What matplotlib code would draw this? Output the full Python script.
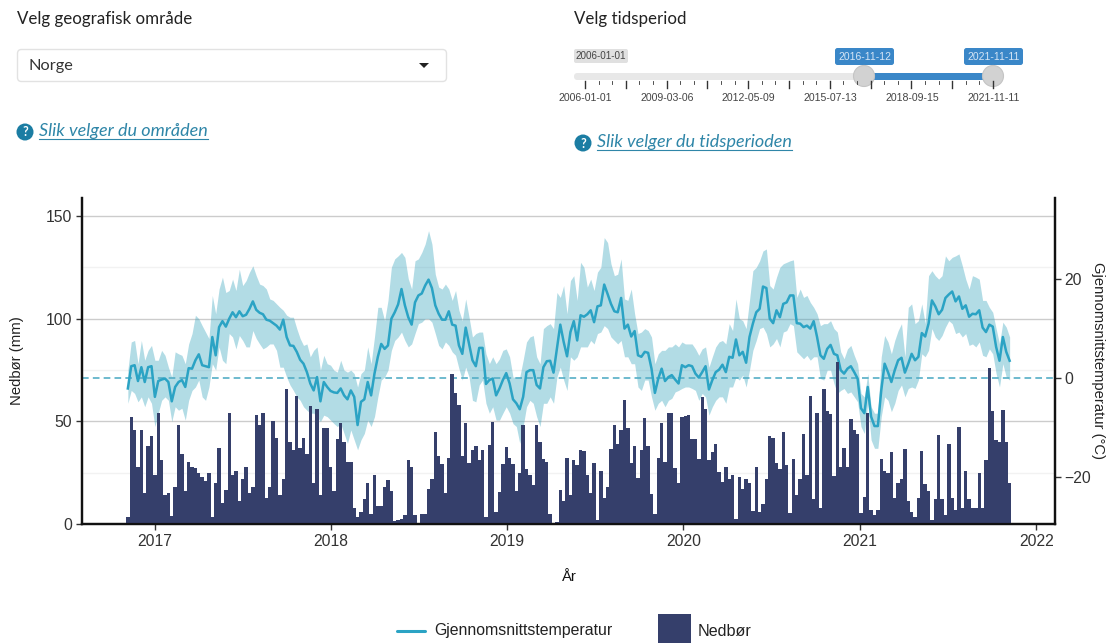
import matplotlib
matplotlib.use('Agg')
import matplotlib.pyplot as plt
import matplotlib.dates as mdates
import pandas as pd
from matplotlib.patches import Circle, FancyBboxPatch, Polygon, Rectangle

# weekly values
nedbor = [
    3.6, 52, 46, 28, 46, 15, 38, 43, 24, 54,
    31, 14, 15, 4, 18, 48, 34, 16, 30, 28,
    27.5, 25, 23, 21, 25, 3.6, 20, 37, 10, 16.5,
    54, 24, 26, 11, 22, 28, 15, 18, 53, 48,
    54, 12.5, 18, 50, 42, 14, 22, 66, 40, 36,
    62.5, 37, 42, 34, 57.5, 20, 56, 14, 47, 47,
    28, 16, 41.5, 49, 40, 30, 30, 8, 3.6, 6,
    12, 20, 5, 24, 9, 9, 18, 21.5, 16, 1.3,
    2, 2.3, 4.4, 31, 28, 4.4, 0.6, 5, 5, 17,
    22, 45, 33, 29, 15, 32, 73, 64, 58, 33,
    49, 29.5, 36, 38, 31, 36, 3.6, 38.5, 49.5, 6,
    15.5, 29, 37.5, 32, 29, 16, 25, 48, 27, 24,
    19, 48, 40, 31.5, 30, 5, 0.3, 1, 16.5, 11,
    32, 14, 31, 28.5, 36, 35.5, 24, 15, 29.5, 2,
    26, 12.5, 18, 36.5, 48, 39, 46, 60.5, 47, 29.5,
    38, 22.5, 36, 51.5, 38, 14.6, 5, 32, 49, 30,
    54, 54, 27.5, 20, 52, 52.5, 53, 41.5, 41.5, 31.5,
    61.7, 56, 31, 35, 39, 25.5, 20.6, 28, 22, 24,
    2.3, 23, 17, 22, 20, 6.5, 28, 6, 9.5, 22,
    43, 42, 29.5, 27, 45, 28.5, 5.5, 31.6, 14, 22,
    44, 24, 62.5, 12, 54, 8, 65.6, 55, 53.5, 23.4,
    79, 27.6, 37, 28, 51, 46, 44, 5.5, 13, 54,
    7, 4.4, 7, 31.5, 26, 25, 35, 12.5, 20, 22,
    36.4, 11, 6, 3.2, 12.5, 35.4, 19.3, 16, 2, 12.3,
    43.5, 12.3, 4.4, 39, 12.5, 7, 47.4, 8, 26, 12,
    7.6, 8, 25, 7.6, 31, 76, 55, 41, 40, 55.5,
    40, 20]

temp_mean = [
    -2.2, 2.3, 2.5, -0.7, 2.1, -0.9, 2.1, 2.3, -3.9, -0.7,
    -0.4, -0.2, -0.9, -4.8, -1.9, -0.9, -0.5, -1.9, 1.9, 1.8,
    3.5, 4.7, 2.5, 2.3, 2.1, 8.2, 4.5, 10.2, 11.4, 10.3,
    11.9, 13.2, 12.2, 13.4, 12.4, 12.7, 13.9, 15.4, 13.7, 13.1,
    12.8, 11.7, 11.5, 11, 10.5, 9.7, 11.7, 8.2, 6.5, 6.4,
    5.2, 3.6, 2.8, 1.1, -1.2, -2.6, 0.1, -4.8, -0.9, -1.9,
    -2.7, -3, -3.1, -2.2, -3.6, -4.4, -2.6, -3.9, -9.6, -4.9,
    -4.4, -0.9, -3.6, 0.8, 4.2, 6.8, 5.8, 6.5, 11.9, 13.2,
    14.8, 17.9, 14.6, 12.2, 10.7, 15.2, 16.6, 17, 18.6, 19.8,
    18.1, 14.6, 12.9, 11.7, 11.7, 13.4, 10.7, 10.5, 6.5, 4.8,
    10.1, 6.8, 3.5, 2.3, 6, 6, -1.3, -0.5, -0.2, -3.6,
    -2.2, -0.5, 0.9, -1.2, -4.4, -5.2, -6.4, -3.9, 1.1, 1.5,
    1.5, -1.5, -2.2, 2.1, 3.3, 3.4, 1, 5.8, 10.7, 7.2,
    4.3, 9.2, 11.4, 7.5, 12.6, 12.3, 12.8, 13.6, 11.2, 14.4,
    14.6, 18.8, 16.9, 14.9, 13.4, 13.2, 16.1, 9.9, 10.7, 8.3,
    9.4, 4.5, 4.2, 5.2, 5, 1.8, -3.1, -0.2, 1.8, -0.7,
    0.1, 0.5, -0.4, -1.2, 2.5, 2.1, 2.5, 2.3, 0.8, 0,
    1.1, 2.3, -2.4, -0.5, 1.1, 1.6, 2.6, 1.1, 4.2, 4,
    7.7, 4.5, 5.2, 3, 8.2, 10.9, 13.2, 13.9, 18.4, 18.1,
    11.9, 11, 13.6, 12.2, 14.9, 15.2, 16.6, 16.6, 11, 10.9,
    10.2, 10.5, 9.9, 11.4, 8.2, 4.5, 3.8, 5.8, 6.6, 4.8,
    4.5, 1.5, 0.8, 1.8, 2.3, 1.1, -0.2, -6.2, -7.2, -1.9,
    -7.9, -9.8, -9.8, -2.6, 2.8, 1.1, -0.9, 1.5, 3.5, 4,
    1, 2.8, 4.8, 3.5, 4.2, 9, 8.3, 10.9, 15.6, 14.4,
    12.8, 13.7, 16.1, 16.8, 17.4, 15.4, 16.4, 13.9, 14.6, 12.3,
    12.9, 12.8, 13.6, 10.1, 9.2, 10.7, 10.3, 6.2, 3.4, 8.2,
    5.2, 3.4]

temp_high = [
    1.5, 7.2, 7.5, 2.8, 7.5, 3.5, 5.5, 6.5, 3.5, 3.5,
    5.5, 4.5, 2.1, 0.1, 5.2, 4.8, 4.5, 2.8, 6.8, 8.9,
    12.6, 11.9, 10.5, 9.2, 7.9, 16.6, 12.9, 17.9, 20.3, 17.2,
    17.6, 19.9, 17.6, 21.9, 18.6, 19.6, 21.3, 22.6, 20.6, 18.9,
    18.6, 17.9, 15.9, 15.6, 14.9, 14.2, 13.6, 12.6, 12.2, 12.2,
    9.9, 7.9, 6.5, 6.8, 4.2, 5.5, 6.2, 1.5, 4.5, 2.8,
    2.5, 1.5, 1.1, 3.5, 1.5, 1.1, 1.5, 0.8, -1.9, 0.8,
    1.5, 6.2, 2.8, 8.2, 14.2, 14.2, 11.5, 15.6, 22.3, 24,
    24.6, 25.3, 24.3, 20, 17.9, 23.6, 24, 25.3, 27, 29.7,
    27, 20.9, 18.3, 17.9, 18.9, 17.9, 15.6, 17.6, 13.6, 11.5,
    15.9, 12.2, 8.2, 8.9, 9.2, 9.2, 4.8, 2.8, 4.2, 2.8,
    3.8, 5.5, 5.8, 4.2, 0.1, 0.1, 0.1, 3.5, 7.2, 8.2,
    8.5, 4.2, 2.8, 9.9, 10.5, 10.9, 9.9, 17.2, 16.2, 18.6,
    12.9, 19.6, 20.6, 15.6, 23.3, 22.3, 18.3, 19.9, 17.6, 21.3,
    22.3, 28.3, 27.3, 23, 20.6, 20.9, 24, 15.9, 15.6, 17.9,
    12.9, 8.9, 9.2, 9.9, 9.5, 8.2, 2.8, 4.8, 5.5, 5.5,
    6.2, 6.2, 6.8, 6.2, 7.2, 6.8, 6.8, 6.8, 5.8, 4.5,
    5.8, 6.2, 2.1, 4.2, 6.2, 7.2, 7.5, 6.8, 10.9, 9.5,
    15.9, 11.9, 11.5, 9.9, 15.6, 21.6, 22.3, 23.6, 25.6, 26,
    18.6, 17.9, 20.3, 22.3, 23, 23.3, 23.6, 23.8, 16.2, 17.9,
    16.2, 16.6, 15.2, 14.2, 12.9, 10.5, 10.9, 10.9, 11.5, 9.9,
    9.2, 5.2, 3.8, 5.8, 6.5, 4.5, 2.8, -3.2, -3.9, 0.8,
    -5.9, -7.2, -7.2, 4.2, 8.5, 7.2, 4.8, 7.5, 9.5, 10.9,
    4.2, 14.2, 14.9, 10.9, 11.5, 14.9, 10.9, 20.6, 21.6, 20.6,
    19.9, 20.6, 24.6, 23.6, 24.3, 24.6, 25, 22.6, 19.9, 17.9,
    20.6, 20.3, 19.9, 15.6, 15.6, 14.2, 13.2, 9.9, 6.8, 11.2,
    10.2, 8.2]

temp_low = [
    -5.2, -2.6, -3.2, -4.9, -3.9, -5.9, -3.9, -5.2, -9.9, -7.2,
    -4.6, -3.9, -4.6, -8.9, -5.9, -6.6, -6.2, -8.6, -4.6, -2.6,
    -1.9, -0.5, -3.9, -4.6, -1.9, 2.8, 1.5, 6.2, 3.5, 2.8,
    8.9, 8.2, 5.8, 8.5, 7.5, 6.2, 6.2, 9.5, 7.9, 6.8,
    5.8, 6.2, 6.8, 6.8, 5.5, 2.1, 2.1, 0.1, -1.5, -2.6,
    -3.9, -4.6, -5.9, -6.6, -7.2, -7.2, -7.9, -8.9, -7.6, -7.9,
    -8.6, -9.3, -9.9, -9.3, -11.3, -13.3, -10.6, -12.6, -14.6, -12.6,
    -11.3, -8.6, -9.9, -7.9, -3.9, -0.5, 0.1, 1.5, 5.5, 7.5,
    8.2, 9.2, 7.5, 6.2, 6.8, 8.9, 10.9, 11.2, 11.9, 11.9,
    11.2, 8.9, 6.5, 5.8, 7.2, 6.5, 5.2, 4.5, 1.8, -0.5,
    2.1, 0.1, -4.6, -4.9, -1.5, -0.5, -5.2, -7.2, -5.9, -8.6,
    -8.6, -7.2, -5.9, -7.2, -9.3, -9.9, -13.3, -9.9, -5.9, -4.6,
    -5.2, -7.9, -9.9, -5.2, -5.2, -3.9, -5.2, 0.1, 2.1, -0.5,
    -2.6, 4.2, 3.5, 4.2, 6.2, 6.2, 6.2, 7.5, 6.8, 8.9,
    9.2, 10.5, 9.9, 8.2, 7.5, 6.8, 7.5, 4.2, 4.2, 2.8,
    2.8, -1.9, -2.6, -0.5, -0.5, -3.9, -6.6, -5.2, -4.6, -5.9,
    -4.6, -4.2, -2.9, -2.6, -2.2, -1.9, -1.9, -2.2, -2.6, -4.6,
    -3.2, -3.9, -7.6, -5.9, -4.6, -3.9, -3.9, -5.2, -1.9, -1.9,
    0.1, -0.5, 0.5, -1.9, 1.5, 5.5, 7.5, 9.9, 10.2, 8.9,
    6.2, 6.8, 7.9, 6.2, 9.2, 9.5, 10.9, 10.5, 5.2, 4.5,
    3.8, 4.5, 3.5, 4.2, 4.2, -0.2, -0.5, 1.5, 1.5, -1.2,
    -3.2, -2.6, -2.2, -3.2, -2.9, -3.9, -4.9, -9.9, -11.3, -5.2,
    -12.6, -14.3, -14.3, -7.9, -3.9, -4.6, -6.9, -5.2, -2.6, -1.5,
    -3.9, -2.2, -1.9, -2.2, -0.5, 4.8, 4.2, 5.5, 9.9, 8.2,
    7.5, 8.5, 10.2, 11.5, 10.9, 8.9, 9.2, 8.2, 8.9, 6.5,
    6.8, 6.2, 7.2, 4.5, 4.2, 5.8, 4.8, 0.8, -1.9, 2.8,
    0.1, -0.5]

ar_ticks = [2017, 2018, 2019, 2020, 2021, 2022]
nedbor_ticks = [0, 50, 100, 150]
nedbor_minor = [25, 75, 125]
temp_ticks = [-20, 0, 20]
slider_labels = ['2006-01-01', '2009-03-06', '2012-05-09', '2015-07-13', '2018-09-15', '2021-11-11']

W, H = 1112, 643
BAR = '#353f6b'
LINE = '#2ba3c4'
BLUE = '#3a87c8'
LINK = '#2f86a8'
UI_FONT = 'Lato'
PLOT_FONT = 'Liberation Sans'

datoer = pd.date_range('2016-11-06', periods=len(nedbor), freq='7D')

fig = plt.figure(figsize=(W / 100, H / 100), dpi=100)

# the bars sit above the band, so the temperature axes goes underneath
ax2 = fig.add_axes([82 / W, (H - 524) / H, (1055 - 82) / W, (524 - 198) / H])
ax = ax2.twinx()
ax.yaxis.tick_left()
ax.yaxis.set_label_position('left')
ax2.yaxis.tick_right()
ax2.yaxis.set_label_position('right')
ax.set_zorder(2)
ax2.set_zorder(1)
ax.patch.set_visible(False)

ax.set_ylim(0, 158.8)
ax2.set_ylim(-29.6, 36.3)
ax2.set_xlim(pd.Timestamp('2016-08-03'), pd.Timestamp('2022-02-09'))

for g in nedbor_ticks:
    ax2.plot([0, 1], [g, g], transform=ax.get_yaxis_transform(), color='#cccccc', lw=1, zorder=0)
for g in nedbor_minor:
    ax2.plot([0, 1], [g, g], transform=ax.get_yaxis_transform(), color='#f2f2f2', lw=1, zorder=0)

ax2.fill_between(datoer, temp_low, temp_high, color='#36a3bd', alpha=0.38, lw=0, zorder=1)
ax2.axhline(0, color='#55aec6', lw=1.2, dashes=(4, 2.5), zorder=2)
ax2.plot(datoer, temp_mean, color=LINE, lw=1.8, zorder=3)
ax.bar(datoer, nedbor, width=7, color=BAR, lw=0)

ax2.set_xticks([pd.Timestamp(f'{y}-01-01') for y in ar_ticks])
ax2.xaxis.set_major_formatter(mdates.DateFormatter('%Y'))
ax.set_yticks(nedbor_ticks)
ax2.set_yticks(temp_ticks)

for a in (ax, ax2):
    a.tick_params(length=4, width=1, color='#333333', labelcolor='#333333', labelsize=11.3, pad=3)
    for lab in a.get_xticklabels() + a.get_yticklabels():
        lab.set_fontfamily(PLOT_FONT)
    a.spines['top'].set_visible(False)
    for side in ('left', 'right', 'bottom'):
        a.spines[side].set_linewidth(1.6)
        a.spines[side].set_color('#111111')

# everything outside the plot is placed in pixels
ui = fig.add_axes([0, 0, 1, 1], zorder=5)
ui.set_xlim(0, W)
ui.set_ylim(H, 0)
ui.axis('off')

ui.text(17, 361, 'Nedbør (mm)', rotation=90, ha='center', va='center', fontsize=10.7,
        family=PLOT_FONT, color='#222222')
ui.text(1098, 361, 'Gjennomsnittstemperatur (°C)', rotation=270, ha='center', va='center', fontsize=10.6,
        family=PLOT_FONT, color='#222222')
ui.text(569, 577, 'År', ha='center', va='center', fontsize=10.6, family=PLOT_FONT, color='#111111')

# legend
ui.plot([397, 425], [631, 631], color=LINE, lw=2.2, solid_capstyle='round')
ui.text(434, 631, 'Gjennomsnittstemperatur', ha='left', va='center', fontsize=11.4, family=PLOT_FONT, color='#222222')
ui.add_patch(Rectangle((658, 614), 33, 29, fc=BAR, lw=0))
ui.text(698, 631, 'Nedbør', ha='left', va='center', fontsize=11.6, family=PLOT_FONT, color='#222222')

# area picker
ui.text(17, 19, 'Velg geografisk område', ha='left', va='center', fontsize=12.2, family=UI_FONT, color='#222222')
ui.add_patch(FancyBboxPatch((17.5, 49.5), 429, 32, boxstyle='round,pad=0,rounding_size=4',
                            fc='white', ec='#e2e2e2', lw=1))
ui.text(29, 66, 'Norge', ha='left', va='center', fontsize=11.8, family=UI_FONT, color='#333333')
ui.add_patch(Polygon([(419, 63), (429, 63), (424, 68)], fc='#222222', lw=0))


def hjelp(x, y, tekst, slutt):
    ui.add_patch(Circle((x, y), 8.5, fc='#1b7da3', lw=0))
    ui.text(x, y + 0.5, '?', ha='center', va='center', fontsize=9, fontweight='bold', family=UI_FONT, color='white')
    ui.text(x + 14, y - 1, tekst, ha='left', va='center', fontsize=13, fontstyle='italic', family=UI_FONT, color=LINK)
    ui.plot([x + 14, slutt], [y + 7, y + 7], color=LINK, lw=0.8)


hjelp(25, 132, 'Slik velger du områden', 208)
hjelp(583, 143, 'Slik velger du tidsperioden', 792)

# period slider
ui.text(574, 19, 'Velg tidsperiod', ha='left', va='center', fontsize=12.2, family=UI_FONT, color='#222222')
ui.add_patch(FancyBboxPatch((574, 73), 419, 7, boxstyle='round,pad=0,rounding_size=3.5', fc='#e8e8e8', lw=0))
ui.add_patch(Rectangle((864, 73), 129, 7, fc=BLUE, lw=0))

for i in range(31):
    x = 585 + i * 13.6
    stor = i % 3 == 0
    ui.plot([x, x], [81, 88 if stor else 83.5], color='#333333', lw=1 if stor else 0.6)
for i, lab in enumerate(slider_labels):
    ui.text(585.5 + i * 81.6, 98, lab, ha='center', va='center', fontsize=7.6, family=PLOT_FONT, color='#444444')

ui.add_patch(FancyBboxPatch((574, 49), 54, 14, boxstyle='round,pad=0,rounding_size=2', fc='#e0e0e0', lw=0))
ui.text(601, 56, slider_labels[0], ha='center', va='center', fontsize=7.1, family=PLOT_FONT, color='#444444')

for x0, lab in [(835, '2016-11-12'), (964, '2021-11-11')]:
    ui.add_patch(FancyBboxPatch((x0, 48), 59, 17, boxstyle='round,pad=0,rounding_size=2.5', fc=BLUE, lw=0))
    ui.text(x0 + 29.5, 56.5, lab, ha='center', va='center', fontsize=7.5, family=PLOT_FONT, color='#d5e5f5')

for x in (864, 993):
    ui.add_patch(Circle((x, 76), 10.5, fc='#d2d2d2', ec='#c4c4c4', lw=0.8))

fig.savefig('out.png', dpi=100)
plt.close()
